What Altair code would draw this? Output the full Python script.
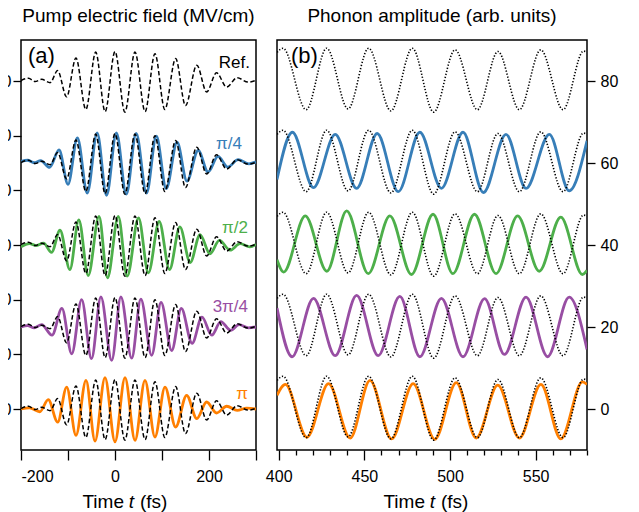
import altair as alt
import pandas as pd

# ------------------------------------------------------------------ data
ROW_NAMES = ["Ref.", "π/4", "π/2", "3π/4", "π"]
ROW_COLORS = ["#000000", "#377eb8", "#4daf4a", "#984ea3", "#ff7f00"]
FIELD_OFFSETS = [60, 45, 30, 15, 0]      # MV/cm vertical offsets, panel (a)
PHONON_OFFSETS = [80, 60, 40, 20, 0]     # arb. units offsets, panel (b)

# panel (a): pump electric field, extrema (t in fs, E in MV/cm)
FIELD_T_REF = [-200, -184, -170, -156, -138, -122, -103, -83, -62, -41, -21, 0, 21, 42.5,
               64, 85, 106, 129, 150, 174, 195, 216, 237.5, 260, 283, 300]
FIELD_E_REF = [0.1, 0.5, -0.1, 0.3, -0.3, 1.9, -2.9, 4.2, -5.2, 5.3, -5.6, 5.4, -5.7, 5.3,
               -5.6, 5.0, -5.2, 4.1, -4.5, 2.9, -2.0, 1.5, -1.1, 0.6, -0.2, 0.1]

FIELD_T_PI4 = [-200, -186, -172, -158, -139, -119, -100, -80, -59, -38, -18, 3, 24, 45,
               67, 88, 109, 132, 153, 177, 198, 219, 240, 262, 285, 300]
FIELD_E_PI4 = [0.3, 0.5, 0.05, 0.45, -0.8, 2.4, -3.9, 4.6, -5.5, 5.5, -5.9, 5.5, -5.7, 5.4,
               -5.5, 4.9, -4.7, 3.8, -3.3, 2.3, -1.65, 1.2, -0.75, 0.6, -0.15, 0.2]

FIELD_T_PI2 = [-200, -182, -167, -152, -135, -117, -96, -77, -57, -34, -16, 7, 26, 50,
               71, 94, 116, 138, 160, 181, 202, 222, 245, 266, 287, 300]
FIELD_E_PI2 = [-0.35, 0.25, -0.1, 0.35, -1.35, 2.7, -4.5, 4.6, -5.6, 5.25, -6.0, 5.25, -5.7, 4.95,
               -5.1, 4.3, -4.5, 3.3, -3.2, 1.9, -1.6, 0.85, -0.95, 0.25, -0.35, 0.1]

FIELD_T_3PI4 = [-200, -186, -172, -156, -134, -113, -92, -71, -50, -30, -7, 12.5, 35.5, 55,
                78, 98, 120.6, 141, 164, 185, 206, 225, 246, 264, 284, 300]
FIELD_E_3PI4 = [0.0, 0.25, -0.15, 0.45, -1.5, 3.4, -4.9, 5.0, -5.8, 5.5, -6.1, 5.5, -5.7, 5.1,
                -5.2, 4.5, -4.3, 3.4, -3.0, 1.8, -1.5, 1.0, -0.6, 0.45, -0.15, 0.0]

FIELD_T_PI = [-200, -182, -160, -142, -122, -102.8, -83, -61.7, -42.5, -21.3, 0, 21.3, 42.6,
              63.8, 85, 106.4, 129, 152.5, 174, 195, 216, 237.6, 260, 280, 300]
FIELD_E_PI = [0.0, 0.2, -0.5, 1.7, -2.4, 4.0, -4.8, 5.24, -5.85, 5.73, -6.0, 5.73, -5.73,
              5.24, -5.12, 4.0, -3.3, 2.5, -1.77, 1.28, -0.73, 0.5, -0.25, 0.15, 0.0]

# panel (b): phonon amplitude, extrema (t in fs, arb. units)
PHONON_T_REF = [399, 402.5, 416, 428, 440.5, 452.5, 465.5, 478, 490.5, 503, 516, 528,
                540.5, 553, 566, 578, 580]
PHONON_A_REF = [7.0, 8.0, -7.0, 8.0, -6.8, 8.0, -7.3, 8.0, -7.6, 7.6, -7.0, 7.2,
                -7.0, 7.6, -7.0, 7.3, 7.0]

PHONON_T_PI4 = [399, 408, 420.3, 433, 445.5, 457.5, 469.8, 482.4, 495, 507.6, 519.5, 532.7,
                544.4, 558, 569.6, 580]
PHONON_A_PI4 = [-4.0, 7.5, -6.0, 7.0, -6.2, 7.2, -7.0, 7.5, -6.2, 7.5, -7.2, 7.0,
                -6.2, 7.0, -6.8, 5.4]

PHONON_T_PI2 = [399, 402.9, 415.5, 428.1, 439.7, 452.3, 464.9, 477.5, 490.1, 501.7, 514.3,
                526.9, 539.5, 552.1, 564.7, 577.3, 580]
PHONON_A_PI2 = [-3.6, -6.6, 7.1, -6.4, 8.3, -7.0, 7.1, -7.2, 7.5, -7.0, 7.5,
                -7.0, 7.1, -6.4, 6.8, -7.2, -6.2]

PHONON_T_3PI4 = [399, 407.8, 420.3, 433, 445.5, 458.1, 470.7, 482.4, 495, 507.6, 520.2,
                 531.8, 544.4, 557, 569.6, 580]
PHONON_A_3PI4 = [4.6, -7.25, 7.0, -7.0, 7.7, -7.0, 7.45, -7.25, 7.0, -7.25, 6.9,
                 -6.7, 7.3, -7.25, 7.3, -5.45]

PHONON_T_PI = [399, 403.9, 416.5, 429.1, 441.7, 453.3, 465.9, 478.5, 491.1, 503.7, 515.3,
               527.9, 540.5, 553.1, 564.7, 577.3, 580]
PHONON_A_PI = [3.35, 6.0, -6.9, 6.2, -7.1, 7.0, -7.3, 6.2, -7.4, 6.45, -7.1,
               5.8, -7.1, 6.0, -7.3, 6.6, 6.0]

FIELD_X_TICKS = [-200, -100, 0, 100, 200, 300]
FIELD_Y_TICKS = [0, 10, 20, 30, 40, 50, 60]
PHONON_X_TICKS = list(range(400, 581, 10))
PHONON_Y_TICKS = [0, 20, 40, 60, 80]

# ------------------------------------------------------------------ tables
field_curves = [(FIELD_T_PI4, FIELD_E_PI4), (FIELD_T_PI2, FIELD_E_PI2),
                (FIELD_T_3PI4, FIELD_E_3PI4), (FIELD_T_PI, FIELD_E_PI)]
phonon_curves = [(PHONON_T_PI4, PHONON_A_PI4), (PHONON_T_PI2, PHONON_A_PI2),
                 (PHONON_T_3PI4, PHONON_A_3PI4), (PHONON_T_PI, PHONON_A_PI)]

rows = []
for i, off in enumerate(FIELD_OFFSETS):
    for t, e in zip(FIELD_T_REF, FIELD_E_REF):
        rows.append({"t": t, "y": e + off, "row": ROW_NAMES[i]})
field_ref = pd.DataFrame(rows)

rows = []
for i, (ts, es) in enumerate(field_curves, start=1):
    for t, e in zip(ts, es):
        rows.append({"t": t, "y": e + FIELD_OFFSETS[i], "row": ROW_NAMES[i]})
field_col = pd.DataFrame(rows)

rows = []
for i, off in enumerate(PHONON_OFFSETS):
    for t, a in zip(PHONON_T_REF, PHONON_A_REF):
        rows.append({"t": t, "y": a + off, "row": ROW_NAMES[i]})
phonon_ref = pd.DataFrame(rows)

rows = []
for i, (ts, as_) in enumerate(phonon_curves, start=1):
    for t, a in zip(ts, as_):
        rows.append({"t": t, "y": a + PHONON_OFFSETS[i], "row": ROW_NAMES[i]})
phonon_col = pd.DataFrame(rows)

FONT = "Liberation Sans"
color_scale = alt.Scale(domain=ROW_NAMES[1:], range=ROW_COLORS[1:])
one = pd.DataFrame({"k": [0]})


def txt(text, x, y, size, color="black", align="center", style="normal"):
    return alt.Chart(one).mark_text(
        text=text, font=FONT, fontSize=size, color=color, align=align,
        baseline="middle", fontStyle=style,
    ).encode(x=alt.value(x), y=alt.value(y))


W_A, W_B, H = 235, 310, 410
AX = dict(title=None, grid=False, domain=False, labelFont=FONT, labelFontSize=16,
          labelColor="black", tickColor="black", tickWidth=1.3)

# ------------------------------------------------------------------ panel (a)
xa = alt.X("t:Q", scale=alt.Scale(domain=[-200, 300], nice=False, zero=False),
           axis=alt.Axis(values=FIELD_X_TICKS, tickSize=10, labelPadding=8,
                         labelExpr="datum.value == 300 ? '' : replace(datum.label, '\u2212', '-')",
                         **AX))
ya = alt.Y("y:Q", scale=alt.Scale(domain=[-7.5, 67.5], nice=False, zero=False),
           axis=alt.Axis(values=FIELD_Y_TICKS, tickSize=8, labelPadding=2, orient="left", **AX))

a_col = alt.Chart(field_col).mark_line(strokeWidth=2.8, interpolate="monotone", clip=True).encode(
    x=xa, y=ya, color=alt.Color("row:N", scale=color_scale, legend=None), detail="row:N")
a_ref = alt.Chart(field_ref).mark_line(strokeWidth=1.5, interpolate="monotone", clip=True,
                                       color="black", strokeDash=[4.5, 2.5]).encode(
    x=xa, y=ya, detail="row:N")

a_labels = [
    txt("Ref.", 229, 23, 17, ROW_COLORS[0], "right"),
    txt("π/4", 221, 104, 17, ROW_COLORS[1], "right"),
    txt("π/2", 227, 188, 17, ROW_COLORS[2], "right"),
    txt("3π/4", 227, 267, 17, ROW_COLORS[3], "right"),
    txt("π", 227, 354, 17, ROW_COLORS[4], "right"),
    txt("(a)", 7, 16, 22, "black", "left"),
    txt("Time", 103, 462, 19, "black", "right"),
    txt("t", 110.5, 462, 19, "black", "center", "italic"),
    txt("(fs)", 119, 462, 19, "black", "left"),
]

panel_a = alt.layer(a_col, a_ref, *a_labels).properties(
    width=W_A, height=H,
    title=alt.TitleParams("Pump electric field (MV/cm)", font=FONT, fontSize=19,
                          fontWeight="normal", color="black", offset=14))

# ------------------------------------------------------------------ panel (b)
xb = alt.X("t:Q", scale=alt.Scale(domain=[399, 580], nice=False, zero=False),
           axis=alt.Axis(values=PHONON_X_TICKS,
                         tickSize={"condition": {"test": "datum.value % 50 === 0", "value": 10}, "value": 5},
                         labelPadding=8,
                         labelExpr="datum.value % 50 === 0 ? datum.label : ''", **AX))
yb = alt.Y("y:Q", scale=alt.Scale(domain=[-10, 90], nice=False, zero=False),
           axis=alt.Axis(values=PHONON_Y_TICKS, tickSize=8, labelPadding=5, orient="right", **AX))

b_col = alt.Chart(phonon_col).mark_line(strokeWidth=2.8, interpolate="monotone", clip=True).encode(
    x=xb, y=yb, color=alt.Color("row:N", scale=color_scale, legend=None), detail="row:N")
b_ref = alt.Chart(phonon_ref).mark_line(strokeWidth=1.6, interpolate="monotone", clip=True,
                                        color="black", strokeDash=[1.3, 1.8]).encode(
    x=xb, y=yb, detail="row:N")

b_labels = [
    txt("(b)", 14, 16, 22, "black", "left"),
    txt("Time", 148, 462, 19, "black", "right"),
    txt("t", 155.5, 462, 19, "black", "center", "italic"),
    txt("(fs)", 164, 462, 19, "black", "left"),
]

panel_b = alt.layer(b_col, b_ref, *b_labels).properties(
    width=W_B, height=H,
    title=alt.TitleParams("Phonon amplitude (arb. units)", font=FONT, fontSize=19,
                          fontWeight="normal", color="black", offset=14))

chart = alt.hconcat(panel_a, panel_b, spacing=21, bounds="flush").resolve_scale(
    x="independent", y="independent", color="shared"
).properties(
    padding={"left": -16, "top": -2, "right": 4, "bottom": 0},
    background="white"
).configure_view(
    stroke="black", strokeWidth=1.5
)

chart.save("out.html", embed_options={"renderer": "svg", "actions": False})
